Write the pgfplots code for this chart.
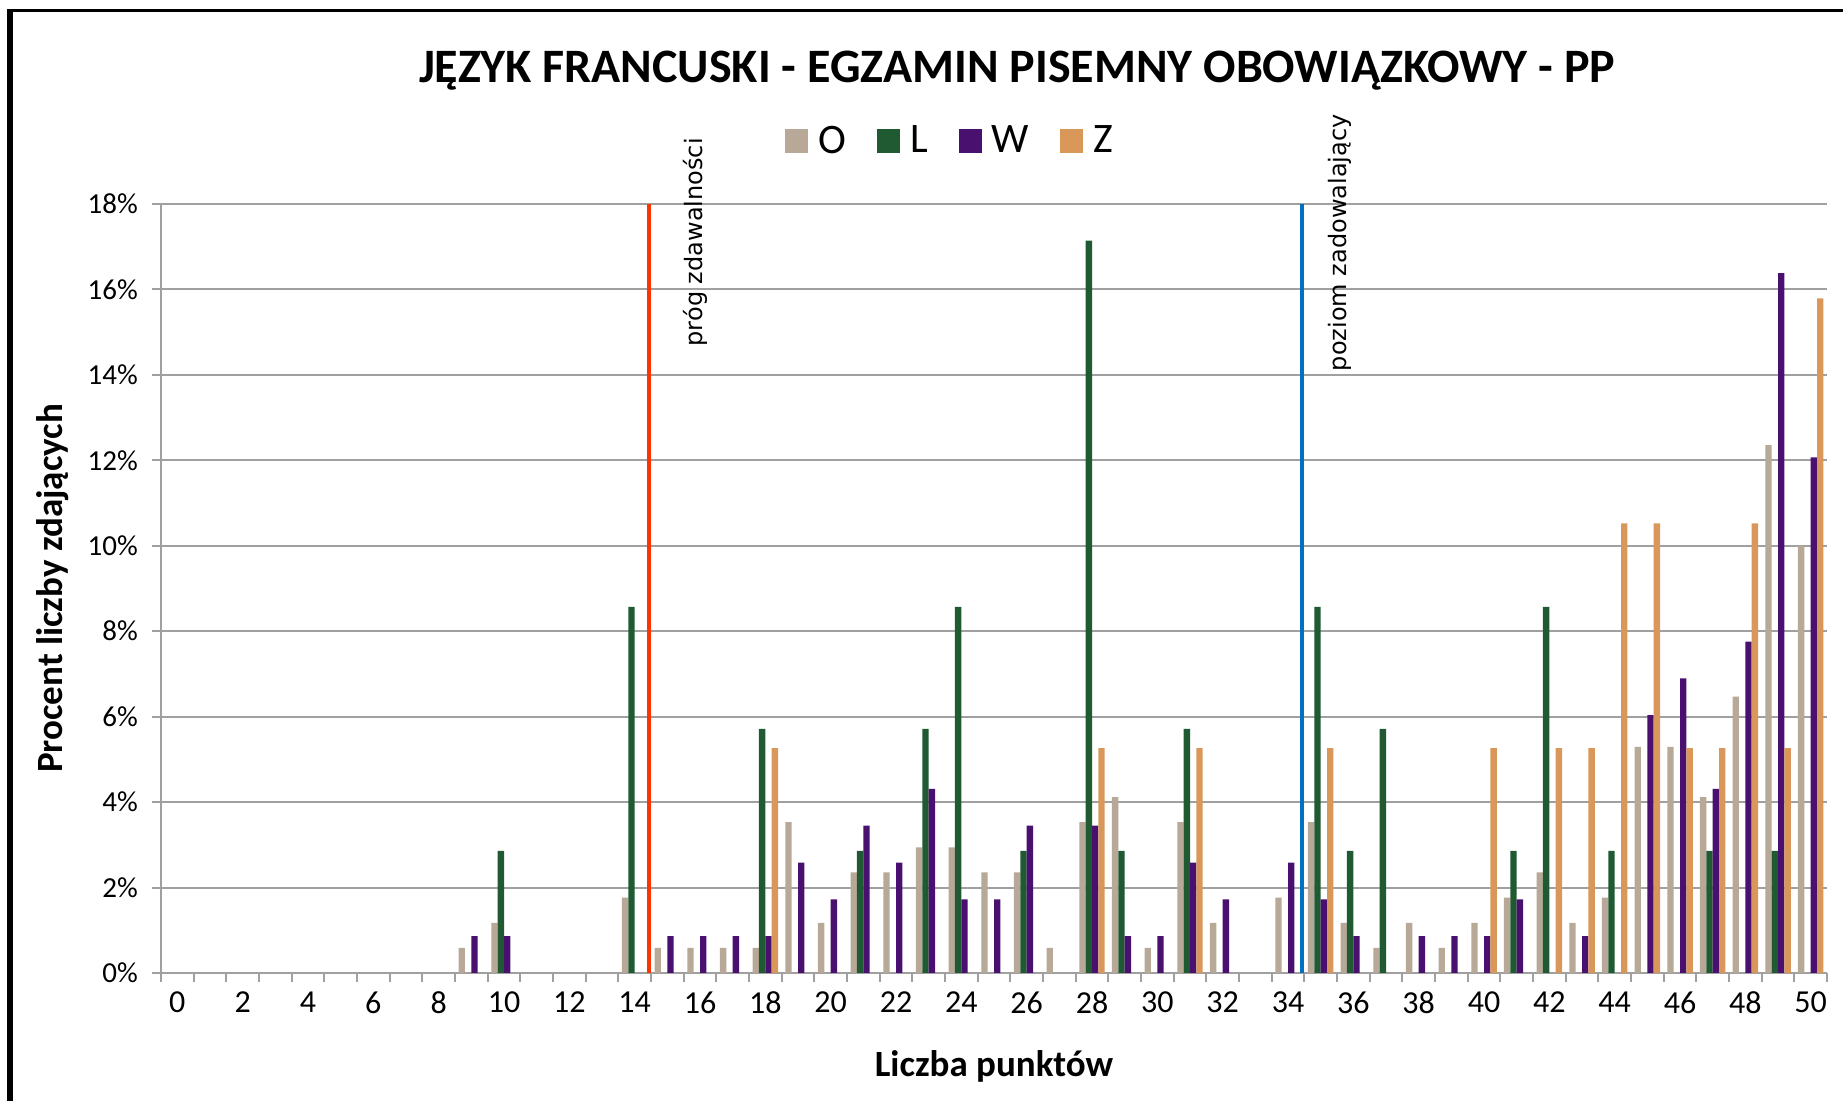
\documentclass[border=0pt]{standalone}
\usepackage{fontspec}
\setmainfont{Carlito}
\newfontfamily\dejavu{DejaVu Sans}
\usepackage{pgfplots}
\pgfplotsset{compat=1.18}
\definecolor{cO}{HTML}{B8A898}
\definecolor{cL}{HTML}{1F5A32}
\definecolor{cW}{HTML}{4A1070}
\definecolor{cZ}{HTML}{D9985A}
\definecolor{cRed}{HTML}{FF3300}
\definecolor{cBlue}{HTML}{0070C0}
\definecolor{cGrid}{HTML}{A0A0A0}
\begin{document}
\begin{tikzpicture}
\useasboundingbox (-80.5pt,-64pt) rectangle (841pt,486.5pt);
\begin{axis}[
  at={(0,0)}, anchor=south west,
  scale only axis, width=833pt, height=384.5pt,
  xmin=-0.5, xmax=50.5, ymin=0, ymax=18,
  axis lines*=left,
  axis line style={cGrid, line width=1pt},
  ytick={0,2,4,6,8,10,12,14,16,18},
  yticklabels={0\%,2\%,4\%,6\%,8\%,10\%,12\%,14\%,16\%,18\%},
  ymajorgrids, grid style={cGrid, line width=1pt},
  xtick={-0.5,0.5,...,50.5}, xticklabels={},
  extra x ticks={0,2,4,6,8,10,12,14,16,18,20,22,24,26,28,30,32,34,36,38,40,42,44,46,48,50},
  extra x tick labels={0,2,4,6,8,10,12,14,16,18,20,22,24,26,28,30,32,34,36,38,40,42,44,46,48,50},
  extra x tick style={major tick length=0pt},
  tick align=outside, major tick length=4.5pt,
  tick style={cGrid, line width=1pt},
  yticklabel style={font=\fontsize{14.5}{16}\selectfont, text=black, xshift=-3.6pt},
  xticklabel style={font=\fontsize{16}{18}\selectfont, text=black, yshift=-6pt},
  clip=false,
  title={JĘZYK FRANCUSKI - EGZAMIN PISEMNY OBOWIĄZKOWY - PP},
  title style={at={(0.5138,1.158)}, anchor=base, yshift=-6pt, font=\fontsize{24}{26}\selectfont\bfseries},
  xlabel={Liczba punktów},
  xlabel style={at={(0.5,-0.1209)}, anchor=center, font=\fontsize{18.5}{20}\selectfont\bfseries},
  ylabel={Procent liczby zdających},
  ylabel style={at={(-0.0648,0.5)}, anchor=center, rotate=0, font=\fontsize{18.5}{20}\selectfont\bfseries},
  legend columns=4,
  legend style={at={(0.3745,1.0819)}, anchor=west, draw=none, fill=none,
    font=\fontsize{21}{23}\selectfont, inner sep=0pt,
    nodes={inner sep=1pt},
    /tikz/every even column/.append style={column sep=14.5pt},
    /tikz/every odd column/.append style={column sep=4pt}},
  legend image code/.code={\fill[#1] (0pt,-6pt) rectangle (11.5pt,6pt);},
]
\addplot[ybar, bar width=0.195, bar shift=-0.2925, fill=cO, draw=none] coordinates {
(9,0.588) (10,1.176) (14,1.765) (15,0.588) (16,0.588) (17,0.588) (18,0.588)
(19,3.529) (20,1.176) (21,2.353) (22,2.353) (23,2.941) (24,2.941) (25,2.353)
(26,2.353) (27,0.588) (28,3.529) (29,4.118) (30,0.588) (31,3.529) (32,1.176)
(34,1.765) (35,3.529) (36,1.176) (37,0.588) (38,1.176) (39,0.588) (40,1.176)
(41,1.765) (42,2.353) (43,1.176) (44,1.765) (45,5.294) (46,5.294) (47,4.118)
(48,6.471) (49,12.353) (50,10.0)};
\addlegendentry{O}
\addplot[ybar, bar width=0.195, bar shift=-0.0975, fill=cL, draw=none] coordinates {
(10,2.857) (14,8.571) (18,5.714) (21,2.857) (23,5.714) (24,8.571) (26,2.857)
(28,17.143) (29,2.857) (31,5.714) (35,8.571) (36,2.857) (37,5.714) (41,2.857)
(42,8.571) (44,2.857) (47,2.857) (49,2.857)};
\addlegendentry{L}
\addplot[ybar, bar width=0.195, bar shift=0.0975, fill=cW, draw=none] coordinates {
(9,0.862) (10,0.862) (15,0.862) (16,0.862) (17,0.862) (18,0.862) (19,2.586)
(20,1.724) (21,3.448) (22,2.586) (23,4.310) (24,1.724) (25,1.724) (26,3.448)
(28,3.448) (29,0.862) (30,0.862) (31,2.586) (32,1.724) (34,2.586) (35,1.724)
(36,0.862) (38,0.862) (39,0.862) (40,0.862) (41,1.724) (43,0.862) (45,6.034)
(46,6.897) (47,4.310) (48,7.759) (49,16.379) (50,12.069)};
\addlegendentry{W}
\addplot[ybar, bar width=0.195, bar shift=0.2925, fill=cZ, draw=none] coordinates {
(18,5.263) (28,5.263) (31,5.263) (35,5.263) (40,5.263) (42,5.263) (43,5.263)
(44,10.526) (45,10.526) (46,5.263) (47,5.263) (48,10.526) (49,5.263) (50,15.789)};
\addlegendentry{Z}
\addplot[cRed, line width=2pt, forget plot] coordinates {(14.43,0) (14.43,18)};
\addplot[cBlue, line width=2pt, forget plot] coordinates {(34.43,0) (34.43,18)};
\node[rotate=90, anchor=west, inner sep=0pt, font=\dejavu\fontsize{12}{14}\selectfont] at (axis cs:15.85,14.66) {próg zdawalności};
\node[rotate=90, anchor=west, inner sep=0pt, font=\dejavu\fontsize{12}{14}\selectfont] at (axis cs:35.59,14.08) {poziom zadowalający};
\end{axis}
\draw[line width=2.75pt] (-75.5pt,-70pt) -- (-75.5pt,482pt);
\draw[line width=1.75pt] (-76.875pt,481.25pt) -- (850pt,481.25pt);
\end{tikzpicture}
\end{document}
